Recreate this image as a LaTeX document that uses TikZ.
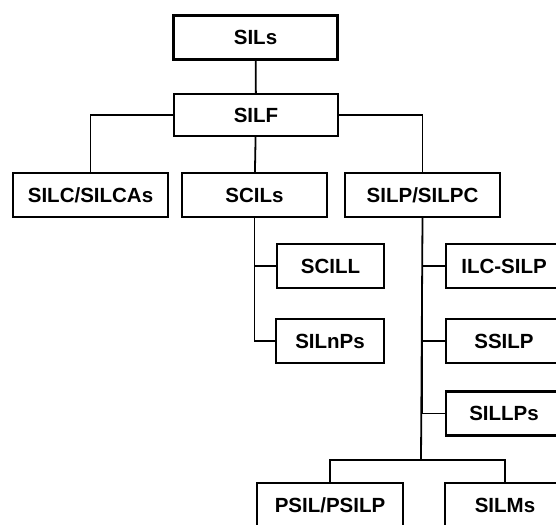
\documentclass[tikz,border=0pt]{standalone}
\usepackage{fontspec}
\setmainfont{Liberation Sans}
\tikzset{
  box/.style={draw, line width=2.4pt, inner sep=0pt, minimum height=44pt, font=\fontsize{20.5}{24}\selectfont\bfseries},
  link/.style={line width=1.8pt}
}
\begin{document}
\begin{tikzpicture}[x=1pt, y=-1pt]
    \clip (0,0) rectangle (556,524);
    \node[box, minimum width=164pt] (sils) at (255.5,37.5) {SILs};
    \node[box, minimum width=164pt, minimum height=42pt] (silf) at (256,115) {SILF};
    \node[box, minimum width=155pt] (silc) at (90.5,195) {SILC/SILCAs};
    \node[box, minimum width=145pt] (scils) at (254.5,195) {SCILs};
    \node[box, minimum width=155pt] (silp) at (422.5,195) {SILP/SILPC};
    \node[box, minimum width=107pt] (scill) at (330.5,266) {SCILL};
    \node[box, minimum width=108pt] (silnps) at (330,341) {SILnPs};
    \node[box, minimum width=116pt] (ilc) at (504,266) {ILC-SILP};
    \node[box, minimum width=116pt] (ssilp) at (504,341) {SSILP};
    \node[box, minimum width=116pt] (sillps) at (504,413.5) {SILLPs};
    \node[box, minimum width=146pt] (psil) at (330,505) {PSIL/PSILP};
    \node[box, minimum width=120pt] (silms) at (505,505) {SILMs};
    \coordinate (bar) at (421,460);
    \draw[link] (sils) -- (silf);
    \draw[link] (silf) -- (scils);
    \draw[link] (silf.west) -| (silc.north);
    \draw[link] (silf.east) -| (silp.north);
    \draw[link] (scils.south) |- (scill.west);
    \draw[link] (scils.south) |- (silnps.west);
    \draw[link] (silp.south) |- (ilc.west);
    \draw[link] (silp.south) |- (ssilp.west);
    \draw[link] (silp.south) |- (sillps.west);
    \draw[link] (silp.south) -- (bar);
    \draw[link] (psil.north) |- (bar) -| (silms.north);
\end{tikzpicture}
\end{document}
